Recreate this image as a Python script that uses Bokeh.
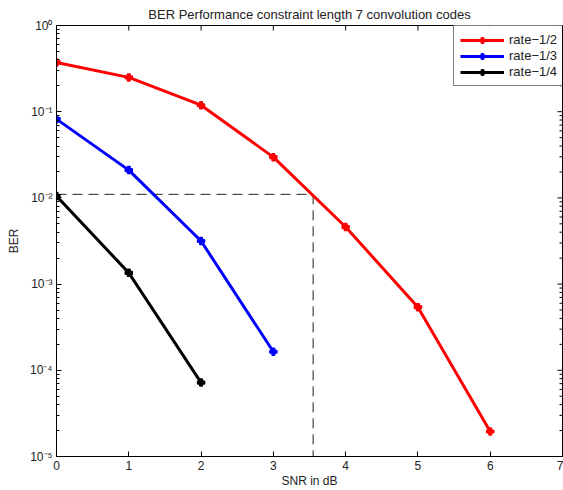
import numpy as np
from bokeh.plotting import figure
from bokeh.models import FixedTicker, Legend, LegendItem
from bokeh.embed import file_html
from bokeh.resources import INLINE

snr = [0, 1, 2, 3, 4, 5, 6]
ber_half = [0.373, 0.25, 0.119, 0.0297, 0.0046, 5.4e-4, 1.95e-5]
snr_third = [0, 1, 2, 3]
ber_third = [0.082, 0.021, 0.00316, 1.64e-4]
snr_quarter = [0, 1, 2]
ber_quarter = [0.0105, 1.35e-3, 7.2e-5]
thresh_ber = 0.011
thresh_snr = 3.55
x_ticks = [0, 1, 2, 3, 4, 5, 6, 7]
y_ticks = [1e-5, 1e-4, 1e-3, 1e-2, 1e-1, 1e0]
y_tick_labels = ["10⁻⁵", "10⁻⁴", "10⁻³", "10⁻²", "10⁻¹", "10⁰"]

FONT = "Liberation Sans"
FS = "12px"
X_MIN, X_MAX = 0, 7
Y_MIN, Y_MAX = 1e-5, 1

p = figure(width=563, height=490, y_axis_type="log", x_range=(X_MIN, X_MAX), y_range=(Y_MIN, Y_MAX),
           output_backend="svg", toolbar_location=None,
           min_border_left=56, min_border_right=1, min_border_top=25, min_border_bottom=33,
           title="BER Performance constraint length 7 convolution codes")
p.title.align = "center"
p.title.text_font = FONT
p.title.text_font_size = "13px"
p.title.text_font_style = "normal"
p.title.text_color = "#222222"
p.title.standoff = 8
p.xgrid.visible = False
p.ygrid.visible = False
p.outline_line_color = "black"

minor = [k * 10.0 ** d for d in range(-5, 0) for k in range(2, 10)]
p.yaxis.ticker = FixedTicker(ticks=y_ticks, minor_ticks=minor)
p.yaxis.major_label_overrides = {v: l for v, l in zip(y_ticks, y_tick_labels)}
p.xaxis.ticker = FixedTicker(ticks=x_ticks)

for ax in [p.xaxis[0], p.yaxis[0]]:
    ax.major_tick_in = 5
    ax.major_tick_out = 0
    ax.minor_tick_in = 3
    ax.minor_tick_out = 0
    ax.axis_line_color = "black"
    ax.major_label_text_font = FONT
    ax.major_label_text_font_size = FS
    ax.major_label_text_color = "#222222"
    ax.axis_label_text_font = FONT
    ax.axis_label_text_font_size = FS
    ax.axis_label_text_font_style = "normal"
    ax.axis_label_text_color = "#222222"
p.xaxis.axis_label = "SNR in dB"
p.yaxis.axis_label = "BER"
p.xaxis.major_label_standoff = 4
p.xaxis.axis_label_standoff = 1
p.yaxis.major_label_standoff = 4
p.yaxis.axis_label_standoff = 6

# box ticks on top and right (matlab style)
p.ray(x=x_ticks, y=[Y_MAX] * len(x_ticks), length=5, angle=-np.pi / 2, length_units="screen",
      line_color="black", line_width=1)
p.ray(x=[X_MAX] * len(y_ticks), y=y_ticks, length=5, angle=np.pi, length_units="screen",
      line_color="black", line_width=1)
p.ray(x=[X_MAX] * len(minor), y=minor, length=3, angle=np.pi, length_units="screen",
      line_color="black", line_width=1)

p.line([X_MIN, thresh_snr], [thresh_ber, thresh_ber], line_color="#222222", line_dash="10 6", line_width=1)
p.line([thresh_snr, thresh_snr], [thresh_ber, Y_MIN], line_color="#222222", line_dash="10 6", line_width=1)

items = []
for xs, ys, col, lab in [(snr, ber_half, "red", "rate−1/2"),
                         (snr_third, ber_third, "blue", "rate−1/3"),
                         (snr_quarter, ber_quarter, "black", "rate−1/4")]:
    l = p.line(xs, ys, line_color=col, line_width=3)
    s = p.scatter(xs, ys, marker="plus", size=7, color=col, line_width=1.5)
    items.append(LegendItem(label=lab, renderers=[l, s]))

leg = Legend(items=items, location=(397, 370), border_line_color="black",
             label_text_font=FONT, label_text_font_size="13px", label_text_color="#222222",
             glyph_width=44, glyph_height=14, spacing=1, padding=6, margin=0,
             label_standoff=5, label_height=14)
p.add_layout(leg, "center")

open("out.html", "w").write(file_html(p, INLINE))
